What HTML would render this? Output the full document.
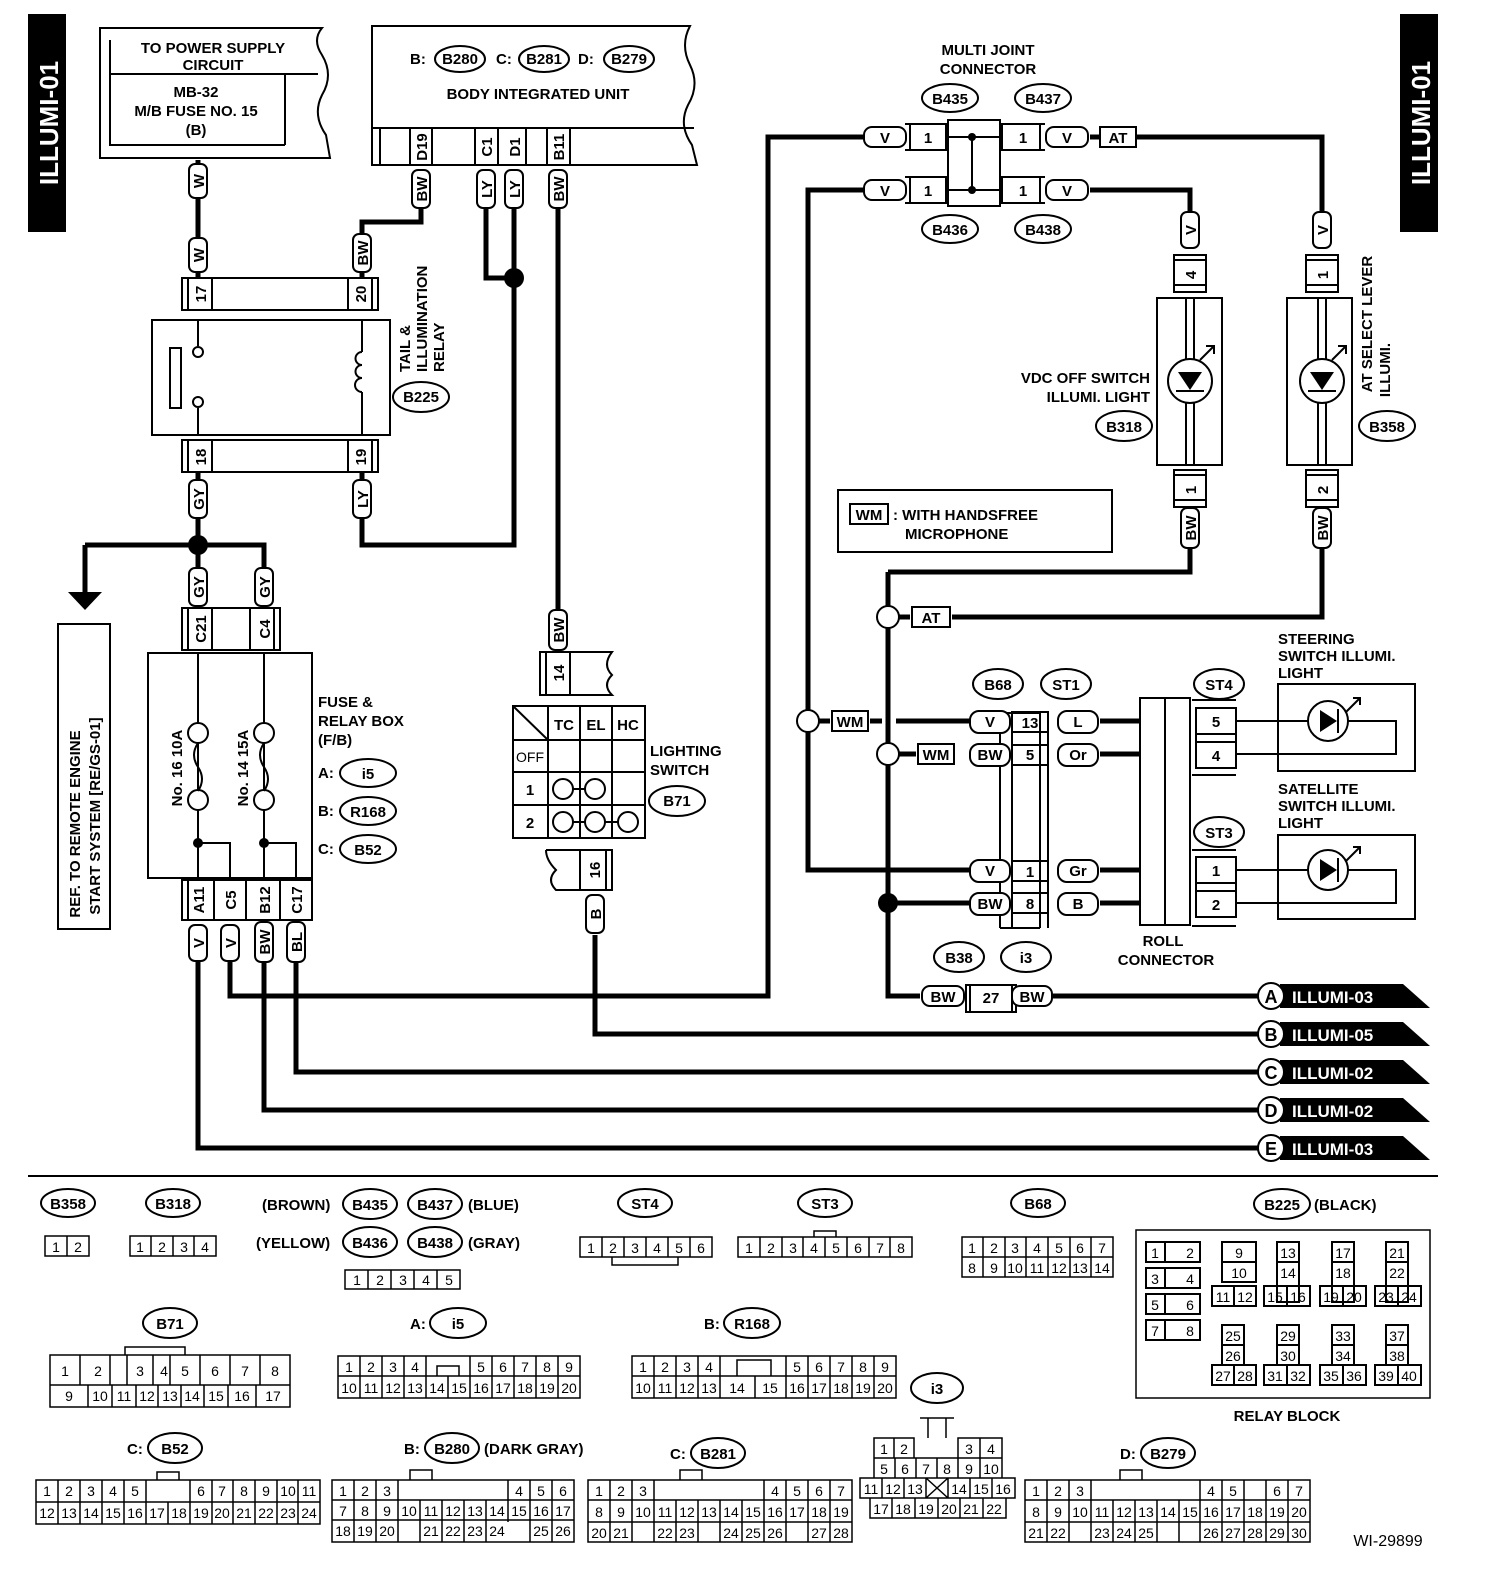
<!DOCTYPE html>
<html><head><meta charset="utf-8"><style>
html,body{margin:0;padding:0;background:#fff;overflow:hidden;width:1504px;height:1586px}
svg{display:block}
text{font-family:"Liberation Sans",sans-serif;font-weight:bold;fill:#000}
.w{fill:none;stroke:#000;stroke-width:5}
.t{fill:none;stroke:#000;stroke-width:2}
.f{fill:#fff;stroke:#000;stroke-width:2}
.s{font-size:15px}
.n{font-size:14px;font-weight:normal}
.m{text-anchor:middle}
</style></head><body>
<svg width="1504" height="1586" viewBox="0 0 1504 1586" xmlns="http://www.w3.org/2000/svg">
<rect x="28" y="14" width="38" height="218" fill="#000"/>
<text transform="translate(58,123) rotate(-90)" class="m" style="font-size:26px;fill:#fff">ILLUMI-01</text>
<rect x="1400" y="14" width="38" height="218" fill="#000"/>
<text transform="translate(1430,123) rotate(-90)" class="m" style="font-size:26px;fill:#fff">ILLUMI-01</text>

<path class="w" d="M198,160V278 M198,472V545 M85,545H264V570 M198,545V570 M85,545V595"/>
<polygon points="68,592 102,592 85,610"/>
<path class="w" d="M421,205V222H362V278 M486,205V278H514 M514,205V545H362V472 M558,205V610"/>
<circle cx="514" cy="278" r="10"/>
<circle cx="198" cy="545" r="10"/>
<path class="w" d="M198,960V1148H1260 M230,960V996H768V137H865 M264,960V1110H1260 M296,960V1072H1260 M595,935V1034H1260"/>
<path class="w" d="M865,190H808V870H970 M808,721H830 M870,721H882 M896,721H970 M888,754H916"/>
<path class="w" d="M888,572V996H920 M888,572H1190V548 M888,617H910 M952,617H1322V545 M888,903H970 M888,754H916"/>
<path class="w" d="M1030,996H1260"/>
<path class="w" d="M1090,137H1322V212 M1090,190H1190V212"/>
<path class="w" d="M1100,721H1140 M1100,754H1140 M1100,870H1140 M1100,903H1140"/>
<circle cx="808" cy="721" r="11" class="f"/>
<circle cx="888" cy="617" r="11" class="f"/>
<circle cx="888" cy="754" r="11" class="f"/>
<circle cx="888" cy="903" r="10"/>

<path class="t" d="M100,28H322 Q312,40 322,55 Q334,75 322,95 Q312,115 326,135 L330,158 H100Z"/>
<path class="t" d="M110,74H318 M285,74V145 M110,40V145H285"/>
<text x="213" y="53" class="m s">TO POWER SUPPLY</text>
<text x="213" y="70" class="m s">CIRCUIT</text>
<text x="196" y="97" class="m s">MB-32</text>
<text x="196" y="116" class="m s">M/B FUSE NO. 15</text>
<text x="196" y="135" class="m s">(B)</text>

<path class="t" d="M372,26H690 Q680,45 690,65 Q700,85 688,105 Q678,125 692,145 L697,165 H372Z"/>
<path class="t" d="M372,128H694 M380,128V165 M410,128V165 M432,128V165 M475,128V165 M498,128V165 M526,128V165 M547,128V165 M570,128V165"/>
<text x="410" y="64" class="s">B:</text><ellipse cx="460" cy="59" rx="25" ry="13" class="t"/><text x="460" y="64" class="m s">B280</text>
<text x="496" y="64" class="s">C:</text><ellipse cx="544" cy="59" rx="25" ry="13" class="t"/><text x="544" y="64" class="m s">B281</text>
<text x="578" y="64" class="s">D:</text><ellipse cx="629" cy="59" rx="25" ry="13" class="t"/><text x="629" y="64" class="m s">B279</text>
<text x="538" y="99" class="m s">BODY INTEGRATED UNIT</text>
<text transform="translate(427,147) rotate(-90)" class="m s">D19</text>
<text transform="translate(492,147) rotate(-90)" class="m s">C1</text>
<text transform="translate(520,147) rotate(-90)" class="m s">D1</text>
<text transform="translate(564,147) rotate(-90)" class="m s">B11</text>

<g>
<rect x="189" y="164" width="18" height="34" rx="6" class="f"/><text transform="translate(204,181) rotate(-90)" class="m s">W</text>
<rect x="189" y="238" width="18" height="34" rx="6" class="f"/><text transform="translate(204,255) rotate(-90)" class="m s">W</text>
<rect x="412" y="170" width="18" height="38" rx="6" class="f"/><text transform="translate(427,189) rotate(-90)" class="m s">BW</text>
<rect x="353" y="234" width="18" height="38" rx="6" class="f"/><text transform="translate(368,253) rotate(-90)" class="m s">BW</text>
<rect x="477" y="170" width="18" height="38" rx="6" class="f"/><text transform="translate(492,189) rotate(-90)" class="m s">LY</text>
<rect x="505" y="170" width="18" height="38" rx="6" class="f"/><text transform="translate(520,189) rotate(-90)" class="m s">LY</text>
<rect x="549" y="170" width="18" height="38" rx="6" class="f"/><text transform="translate(564,189) rotate(-90)" class="m s">BW</text>
<rect x="189" y="480" width="18" height="38" rx="6" class="f"/><text transform="translate(204,499) rotate(-90)" class="m s">GY</text>
<rect x="353" y="480" width="18" height="38" rx="6" class="f"/><text transform="translate(368,499) rotate(-90)" class="m s">LY</text>
<rect x="189" y="568" width="18" height="38" rx="6" class="f"/><text transform="translate(204,587) rotate(-90)" class="m s">GY</text>
<rect x="255" y="568" width="18" height="38" rx="6" class="f"/><text transform="translate(270,587) rotate(-90)" class="m s">GY</text>
<rect x="549" y="610" width="18" height="40" rx="6" class="f"/><text transform="translate(564,630) rotate(-90)" class="m s">BW</text>
<rect x="189" y="925" width="18" height="36" rx="6" class="f"/><text transform="translate(204,943) rotate(-90)" class="m s">V</text>
<rect x="221" y="925" width="18" height="36" rx="6" class="f"/><text transform="translate(236,943) rotate(-90)" class="m s">V</text>
<rect x="255" y="922" width="18" height="40" rx="6" class="f"/><text transform="translate(270,942) rotate(-90)" class="m s">BW</text>
<rect x="287" y="922" width="18" height="40" rx="6" class="f"/><text transform="translate(302,942) rotate(-90)" class="m s">BL</text>
<rect x="586" y="895" width="18" height="38" rx="6" class="f"/><text transform="translate(601,914) rotate(-90)" class="m s">B</text>
<rect x="1181" y="212" width="18" height="36" rx="6" class="f"/><text transform="translate(1196,230) rotate(-90)" class="m s">V</text>
<rect x="1313" y="212" width="18" height="36" rx="6" class="f"/><text transform="translate(1328,230) rotate(-90)" class="m s">V</text>
<rect x="1181" y="508" width="18" height="40" rx="6" class="f"/><text transform="translate(1196,528) rotate(-90)" class="m s">BW</text>
<rect x="1313" y="508" width="18" height="40" rx="6" class="f"/><text transform="translate(1328,528) rotate(-90)" class="m s">BW</text>
</g>

<path class="t" d="M182,278H378V310H182Z M188,278V310 M212,278V310 M348,278V310 M372,278V310"/>
<text transform="translate(206,294) rotate(-90)" class="m s">17</text>
<text transform="translate(366,294) rotate(-90)" class="m s">20</text>
<rect x="152" y="320" width="238" height="115" class="t"/>
<path class="t" d="M182,440H378V472H182Z M188,440V472 M212,440V472 M348,440V472 M372,440V472"/>
<text transform="translate(206,457) rotate(-90)" class="m s">18</text>
<text transform="translate(366,457) rotate(-90)" class="m s">19</text>
<rect x="170" y="348" width="11" height="60" class="t"/>
<path class="t" d="M198,320V346 M198,408V435 M362,320V352 M362,392V435"/>
<circle cx="198" cy="352" r="5" class="f"/><circle cx="198" cy="402" r="5" class="f"/>
<path class="t" d="M362,352 a6,6 0 1 0 0,13 a6,6 0 1 0 0,13 a6,6 0 1 0 0,14"/>
<text transform="translate(410,372) rotate(-90)" class="s">TAIL &amp;</text>
<text transform="translate(427,372) rotate(-90)" class="s">ILLUMINATION</text>
<text transform="translate(444,372) rotate(-90)" class="s">RELAY</text>
<ellipse cx="421" cy="397" rx="28" ry="15" class="t"/><text x="421" y="402" class="m s">B225</text>

<path class="t" d="M182,608H280V650H182Z M188,608V650 M212,608V650 M250,608V650 M274,608V650"/>
<text transform="translate(206,629) rotate(-90)" class="m s">C21</text>
<text transform="translate(270,629) rotate(-90)" class="m s">C4</text>
<rect x="148" y="653" width="164" height="225" class="t"/>
<path class="t" d="M198,653V723 M198,743V790 M198,810V880 M264,653V723 M264,743V790 M264,810V880 M198,843H230V880 M264,843H296V880"/>
<circle cx="198" cy="733" r="10" class="f"/><circle cx="198" cy="800" r="10" class="f"/>
<circle cx="264" cy="733" r="10" class="f"/><circle cx="264" cy="800" r="10" class="f"/>
<path class="t" d="M198,743 q-8,12 0,24 q8,12 0,24 M264,743 q-8,12 0,24 q8,12 0,24"/>
<circle cx="198" cy="843" r="5"/><circle cx="264" cy="843" r="5"/>
<text transform="translate(182,768) rotate(-90)" class="m s">No. 16 10A</text>
<text transform="translate(248,768) rotate(-90)" class="m s">No. 14 15A</text>
<path class="t" d="M182,880H312V920H182Z M188,880V920 M214,880V920 M246,880V920 M280,880V920"/>
<text transform="translate(204,900) rotate(-90)" class="m s">A11</text>
<text transform="translate(236,900) rotate(-90)" class="m s">C5</text>
<text transform="translate(270,900) rotate(-90)" class="m s">B12</text>
<text transform="translate(302,900) rotate(-90)" class="m s">C17</text>
<text x="318" y="707" class="s">FUSE &amp;</text>
<text x="318" y="726" class="s">RELAY BOX</text>
<text x="318" y="745" class="s">(F/B)</text>
<text x="318" y="778" class="s">A:</text><ellipse cx="368" cy="773" rx="28" ry="14" class="t"/><text x="368" y="779" class="m s">i5</text>
<text x="318" y="816" class="s">B:</text><ellipse cx="368" cy="811" rx="28" ry="14" class="t"/><text x="368" y="817" class="m s">R168</text>
<text x="318" y="854" class="s">C:</text><ellipse cx="368" cy="849" rx="28" ry="14" class="t"/><text x="368" y="855" class="m s">B52</text>

<rect x="58" y="624" width="52" height="305" class="t"/>
<text transform="translate(80,824) rotate(-90)" class="m s">REF. TO REMOTE ENGINE</text>
<text transform="translate(100,816) rotate(-90)" class="m s">START SYSTEM [RE/GS-01]</text>

<path class="t" d="M540,652H612 Q602,665 612,675 Q602,685 612,695 H540Z M546,652V695 M570,652V695"/>
<text transform="translate(564,673) rotate(-90)" class="m s">14</text>
<path class="t" d="M513,706H645V838H513Z M548,706V838 M580,706V838 M612,706V838 M513,740H645 M513,772H645 M513,805H645 M513,706L548,740"/>
<text x="564" y="730" class="m s">TC</text><text x="596" y="730" class="m s">EL</text><text x="628" y="730" class="m s">HC</text>
<text x="530" y="762" class="m n">OFF</text><text x="530" y="795" class="m s">1</text><text x="530" y="828" class="m s">2</text>
<path class="t" d="M573,789H585 M573,822H585 M605,822H618"/>
<circle cx="563" cy="789" r="10" class="t"/><circle cx="595" cy="789" r="10" class="t"/>
<circle cx="563" cy="822" r="10" class="t"/><circle cx="595" cy="822" r="10" class="t"/><circle cx="628" cy="822" r="10" class="t"/>
<path class="t" d="M546,850H612V890H556 Q546,880 556,870 Q546,860 546,850 M580,850V890 M606,850V890"/>
<text transform="translate(600,870) rotate(-90)" class="m s">16</text>
<text x="650" y="756" class="s">LIGHTING</text><text x="650" y="775" class="s">SWITCH</text>
<ellipse cx="677" cy="801" rx="28" ry="15" class="t"/><text x="677" y="806" class="m s">B71</text>

<text x="988" y="55" class="m s">MULTI JOINT</text><text x="988" y="74" class="m s">CONNECTOR</text>
<ellipse cx="950" cy="98" rx="28" ry="14" class="t"/><text x="950" y="104" class="m s">B435</text>
<ellipse cx="1043" cy="98" rx="28" ry="14" class="t"/><text x="1043" y="104" class="m s">B437</text>
<ellipse cx="950" cy="229" rx="28" ry="14" class="t"/><text x="950" y="235" class="m s">B436</text>
<ellipse cx="1043" cy="229" rx="28" ry="14" class="t"/><text x="1043" y="235" class="m s">B438</text>
<rect x="948" y="120" width="52" height="86" class="t"/>
<path class="t" d="M948,137H1000 M948,190H1000 M972,137V190"/>
<circle cx="972" cy="137" r="4"/><circle cx="972" cy="190" r="4"/>
<path class="t" d="M905,124H946V150H905 M910,124V150 M905,177H946V203H905 M910,177V203 M1045,124H1002V150H1045 M1040,124V150 M1045,177H1002V203H1045 M1040,177V203"/>
<text x="928" y="143" class="m s">1</text><text x="928" y="196" class="m s">1</text>
<text x="1023" y="143" class="m s">1</text><text x="1023" y="196" class="m s">1</text>
<rect x="864" y="127" width="42" height="20" rx="8" class="f"/><text x="885" y="143" class="m s">V</text>
<rect x="864" y="180" width="42" height="20" rx="8" class="f"/><text x="885" y="196" class="m s">V</text>
<rect x="1046" y="127" width="42" height="20" rx="8" class="f"/><text x="1067" y="143" class="m s">V</text>
<rect x="1046" y="180" width="42" height="20" rx="8" class="f"/><text x="1067" y="196" class="m s">V</text>
<rect x="1100" y="127" width="36" height="20" class="f"/><text x="1118" y="143" class="m s">AT</text>

<path class="t" d="M1174,255H1206V292H1174Z M1174,260H1206 M1174,285H1206"/>
<text transform="translate(1196,275) rotate(-90)" class="m s">4</text>
<rect x="1157" y="298" width="65" height="167" class="t"/>
<path class="t" d="M1186,298V465 M1194,298V465"/>
<circle cx="1190" cy="381" r="22" class="f"/>
<polygon points="1178,372 1202,372 1190,390"/><path class="t" d="M1176,391H1204"/>
<path class="t" d="M1200,360l14,-14 m-8,0l8,0l0,8"/>
<path class="t" d="M1174,470H1206V507H1174Z M1174,475H1206 M1174,500H1206"/>
<text transform="translate(1196,490) rotate(-90)" class="m s">1</text>
<text x="1150" y="383" class="s" text-anchor="end">VDC OFF SWITCH</text>
<text x="1150" y="402" class="s" text-anchor="end">ILLUMI. LIGHT</text>
<ellipse cx="1124" cy="426" rx="28" ry="15" class="t"/><text x="1124" y="432" class="m s">B318</text>

<path class="t" d="M1306,255H1338V292H1306Z M1306,260H1338 M1306,285H1338"/>
<text transform="translate(1328,275) rotate(-90)" class="m s">1</text>
<rect x="1287" y="298" width="65" height="167" class="t"/>
<path class="t" d="M1318,298V465 M1326,298V465"/>
<circle cx="1322" cy="381" r="22" class="f"/>
<polygon points="1310,372 1334,372 1322,390"/><path class="t" d="M1308,391H1336"/>
<path class="t" d="M1332,360l14,-14 m-8,0l8,0l0,8"/>
<path class="t" d="M1306,470H1338V507H1306Z M1306,475H1338 M1306,500H1338"/>
<text transform="translate(1328,490) rotate(-90)" class="m s">2</text>
<text transform="translate(1372,324) rotate(-90)" class="m s">AT SELECT LEVER</text>
<text transform="translate(1390,370) rotate(-90)" class="m s">ILLUMI.</text>
<ellipse cx="1387" cy="426" rx="28" ry="15" class="t"/><text x="1387" y="432" class="m s">B358</text>

<rect x="838" y="490" width="274" height="62" class="t"/>
<rect x="850" y="504" width="38" height="20" class="t"/><text x="869" y="520" class="m s">WM</text>
<text x="893" y="520" class="s">: WITH HANDSFREE</text><text x="905" y="539" class="s">MICROPHONE</text>

<rect x="912" y="607" width="38" height="20" class="f"/><text x="931" y="623" class="m s">AT</text>
<rect x="832" y="711" width="36" height="20" class="f"/><text x="850" y="727" class="m s">WM</text>
<rect x="918" y="744" width="36" height="20" class="f"/><text x="936" y="760" class="m s">WM</text>

<ellipse cx="998" cy="684" rx="25" ry="15" class="t"/><text x="998" y="690" class="m s">B68</text>
<ellipse cx="1066" cy="684" rx="25" ry="15" class="t"/><text x="1066" y="690" class="m s">ST1</text>
<path class="t" d="M1000,713V928 M1040,713V928 M1000,713H1040 M1000,928H1040 M1012,713V928 M1048,713V928"/>
<path class="t" d="M1012,712H1048V732H1012Z M1012,745H1048V765H1012Z M1012,861H1048V881H1012Z M1012,893H1048V913H1012Z"/>
<text x="1030" y="728" class="m s">13</text><text x="1030" y="760" class="m s">5</text><text x="1030" y="877" class="m s">1</text><text x="1030" y="909" class="m s">8</text>
<g>
<rect x="970" y="711" width="40" height="22" rx="9" class="f"/><text x="990" y="727" class="m s">V</text>
<rect x="970" y="744" width="40" height="22" rx="9" class="f"/><text x="990" y="760" class="m s">BW</text>
<rect x="970" y="860" width="40" height="22" rx="9" class="f"/><text x="990" y="876" class="m s">V</text>
<rect x="970" y="893" width="40" height="22" rx="9" class="f"/><text x="990" y="909" class="m s">BW</text>
<rect x="1058" y="711" width="40" height="22" rx="9" class="f"/><text x="1078" y="727" class="m s">L</text>
<rect x="1058" y="744" width="40" height="22" rx="9" class="f"/><text x="1078" y="760" class="m s">Or</text>
<rect x="1058" y="860" width="40" height="22" rx="9" class="f"/><text x="1078" y="876" class="m s">Gr</text>
<rect x="1058" y="893" width="40" height="22" rx="9" class="f"/><text x="1078" y="909" class="m s">B</text>
</g>
<path class="t" d="M1140,698H1190V925H1140Z M1165,698V925"/>
<text x="1163" y="946" class="m s">ROLL</text><text x="1166" y="965" class="m s">CONNECTOR</text>
<ellipse cx="1219" cy="684" rx="25" ry="15" class="t"/><text x="1219" y="690" class="m s">ST4</text>
<path class="t" d="M1192,700H1236 M1192,775H1236 M1196,708H1236V768H1196Z M1196,734H1236 M1196,742H1236"/>
<text x="1216" y="727" class="m s">5</text><text x="1216" y="761" class="m s">4</text>
<ellipse cx="1219" cy="832" rx="25" ry="15" class="t"/><text x="1219" y="838" class="m s">ST3</text>
<path class="t" d="M1192,850H1236 M1192,926H1236 M1196,857H1236V917H1196Z M1196,883H1236 M1196,891H1236"/>
<text x="1216" y="876" class="m s">1</text><text x="1216" y="910" class="m s">2</text>
<rect x="1278" y="684" width="137" height="87" class="t"/>
<rect x="1278" y="835" width="137" height="84" class="t"/>
<path class="t" d="M1236,721H1396V754H1236 M1236,870H1396V903H1236"/>
<circle cx="1328" cy="721" r="20" class="f"/><polygon points="1320,710 1320,732 1337,721"/><path class="t" d="M1338,709V733 M1346,712l14,-14 m-7,0l7,0l0,7"/>
<circle cx="1328" cy="870" r="20" class="f"/><polygon points="1320,859 1320,881 1337,870"/><path class="t" d="M1338,858V882 M1346,861l14,-14 m-7,0l7,0l0,7"/>
<text x="1278" y="644" class="s">STEERING</text><text x="1278" y="661" class="s">SWITCH ILLUMI.</text><text x="1278" y="678" class="s">LIGHT</text>
<text x="1278" y="794" class="s">SATELLITE</text><text x="1278" y="811" class="s">SWITCH ILLUMI.</text><text x="1278" y="828" class="s">LIGHT</text>

<ellipse cx="959" cy="957" rx="25" ry="15" class="t"/><text x="959" y="963" class="m s">B38</text>
<ellipse cx="1026" cy="957" rx="25" ry="15" class="t"/><text x="1026" y="963" class="m s">i3</text>
<path class="t" d="M966,985H1016V1012H966Z M970,985V1012 M1012,985V1012"/>
<text x="991" y="1003" class="m s">27</text>
<rect x="922" y="986" width="42" height="20" rx="8" class="f"/><text x="943" y="1002" class="m s">BW</text>
<rect x="1012" y="986" width="40" height="20" rx="8" class="f"/><text x="1032" y="1002" class="m s">BW</text>

<g>
<polygon points="1280,984 1403,984 1430,1008 1280,1008"/><circle cx="1271" cy="996" r="13" class="f"/><text x="1271" y="1003" class="m" style="font-size:18px">A</text><text x="1292" y="1003" style="font-size:17px;fill:#fff">ILLUMI-03</text>
<polygon points="1280,1022 1403,1022 1430,1046 1280,1046"/><circle cx="1271" cy="1034" r="13" class="f"/><text x="1271" y="1041" class="m" style="font-size:18px">B</text><text x="1292" y="1041" style="font-size:17px;fill:#fff">ILLUMI-05</text>
<polygon points="1280,1060 1403,1060 1430,1084 1280,1084"/><circle cx="1271" cy="1072" r="13" class="f"/><text x="1271" y="1079" class="m" style="font-size:18px">C</text><text x="1292" y="1079" style="font-size:17px;fill:#fff">ILLUMI-02</text>
<polygon points="1280,1098 1403,1098 1430,1122 1280,1122"/><circle cx="1271" cy="1110" r="13" class="f"/><text x="1271" y="1117" class="m" style="font-size:18px">D</text><text x="1292" y="1117" style="font-size:17px;fill:#fff">ILLUMI-02</text>
<polygon points="1280,1136 1403,1136 1430,1160 1280,1160"/><circle cx="1271" cy="1148" r="13" class="f"/><text x="1271" y="1155" class="m" style="font-size:18px">E</text><text x="1292" y="1155" style="font-size:17px;fill:#fff">ILLUMI-03</text>
</g>

<path d="M28,1176H1438" stroke="#000" stroke-width="2"/>

<g>
<ellipse cx="68" cy="1203" rx="27" ry="14" class="t"/><text x="68" y="1209" class="m s">B358</text>
<ellipse cx="173" cy="1203" rx="27" ry="14" class="t"/><text x="173" y="1209" class="m s">B318</text>
<text x="262" y="1210" class="s">(BROWN)</text><ellipse cx="370" cy="1204" rx="27" ry="15" class="t"/><text x="370" y="1210" class="m s">B435</text>
<ellipse cx="435" cy="1204" rx="27" ry="15" class="t"/><text x="435" y="1210" class="m s">B437</text><text x="468" y="1210" class="s">(BLUE)</text>
<text x="256" y="1248" class="s">(YELLOW)</text><ellipse cx="370" cy="1242" rx="27" ry="15" class="t"/><text x="370" y="1248" class="m s">B436</text>
<ellipse cx="435" cy="1242" rx="27" ry="15" class="t"/><text x="435" y="1248" class="m s">B438</text><text x="468" y="1248" class="s">(GRAY)</text>
<ellipse cx="645" cy="1203" rx="27" ry="14" class="t"/><text x="645" y="1209" class="m s">ST4</text>
<ellipse cx="825" cy="1203" rx="27" ry="14" class="t"/><text x="825" y="1209" class="m s">ST3</text>
<ellipse cx="1038" cy="1203" rx="27" ry="14" class="t"/><text x="1038" y="1209" class="m s">B68</text>
<ellipse cx="1282" cy="1204" rx="28" ry="15" class="t"/><text x="1282" y="1210" class="m s">B225</text><text x="1314" y="1210" class="s">(BLACK)</text>
<ellipse cx="170" cy="1323" rx="27" ry="15" class="t"/><text x="170" y="1329" class="m s">B71</text>
<text x="410" y="1329" class="s">A:</text><ellipse cx="458" cy="1323" rx="28" ry="15" class="t"/><text x="458" y="1329" class="m s">i5</text>
<text x="704" y="1329" class="s">B:</text><ellipse cx="752" cy="1323" rx="28" ry="15" class="t"/><text x="752" y="1329" class="m s">R168</text>
<ellipse cx="937" cy="1388" rx="26" ry="15" class="t"/><text x="937" y="1394" class="m s">i3</text>
<text x="127" y="1454" class="s">C:</text><ellipse cx="175" cy="1448" rx="27" ry="15" class="t"/><text x="175" y="1454" class="m s">B52</text>
<text x="404" y="1454" class="s">B:</text><ellipse cx="452" cy="1448" rx="27" ry="15" class="t"/><text x="452" y="1454" class="m s">B280</text><text x="484" y="1454" class="s">(DARK GRAY)</text>
<text x="670" y="1459" class="s">C:</text><ellipse cx="718" cy="1453" rx="27" ry="15" class="t"/><text x="718" y="1459" class="m s">B281</text>
<text x="1120" y="1459" class="s">D:</text><ellipse cx="1168" cy="1453" rx="27" ry="15" class="t"/><text x="1168" y="1459" class="m s">B279</text>
</g>

<g stroke="#000" stroke-width="1.5" fill="none">
<path d="M45,1236h44v20h-44z M67,1236v20"/>
<path d="M130,1236h86v20h-86z M151,1236v20 M173,1236v20 M194,1236v20"/>
<path d="M345,1270h115v19h-115z M368,1270v19 M391,1270v19 M414,1270v19 M437,1270v19"/>
<path d="M580,1237h132v20h-132z M602,1237v20 M624,1237v20 M646,1237v20 M668,1237v20 M690,1237v20 M612,1257v8h66v-8"/>
<path d="M738,1237h174v20h-174z M760,1237v20 M782,1237v20 M803,1237v20 M825,1237v20 M847,1237v20 M869,1237v20 M890,1237v20 M814,1237v-6h22v6"/>
<path d="M962,1237h151v40h-151z M962,1257h151 M983,1237v40 M1005,1237v40 M1026,1237v40 M1048,1237v40 M1070,1237v40 M1091,1237v40"/>
<path d="M1136,1230h294v168h-294z"/>
<path d="M50,1355h240v52h-240z M50,1385h240 M80,1355v30 M110,1355v30 M170,1355v30 M200,1355v30 M230,1355v30 M260,1355v30 M127,1355v30 M153,1355v30 M88,1385v22 M112,1385v22 M136,1385v22 M158,1385v22 M181,1385v22 M204,1385v22 M228,1385v22 M256,1385v22 M125,1355v-8h60v8"/>
<path d="M338,1356h242v42h-242z M338,1376h242 M360,1356v42 M382,1356v42 M404,1356v42 M426,1356v42 M448,1376v22 M470,1356v42 M492,1356v42 M514,1356v42 M536,1356v42 M558,1356v42 M437,1376v-10h22v10"/>
<path d="M632,1356h264v42h-264z M632,1376h264 M654,1356v42 M676,1356v42 M698,1356v42 M720,1356v42 M755,1376v22 M786,1356v42 M808,1356v42 M830,1356v42 M852,1356v42 M874,1356v42 M737,1376v-16h34v16"/>
<path d="M874,1438h40v20h-40z M894,1438v20 M958,1438h44v20h-44z M980,1438v20 M874,1458h128v20h-128z M895,1458v20 M916,1458v20 M937,1458v20 M958,1458v20 M980,1458v20 M860,1478h155v20h-155z M882,1478v20 M904,1478v20 M926,1478v20 M948,1478v20 M970,1478v20 M992,1478v20 M926,1478l22,20 M948,1478l-22,20 M870,1498h136v20h-136z M892,1498v20 M915,1498v20 M938,1498v20 M960,1498v20 M983,1498v20 M928,1438v-20h18v20 M920,1418h34"/>
<path d="M36,1480h284v44h-284z M36,1502h284 M58,1480v44 M80,1480v44 M102,1480v44 M124,1480v44 M146,1480v44 M168,1502v22 M190,1480v44 M212,1480v44 M233,1480v44 M255,1480v44 M277,1480v44 M298,1480v44 M157,1480v-8h22v8"/>
<path d="M332,1480h242v62h-242z M332,1500h242 M332,1520h242 M354,1480v62 M376,1480v62 M398,1480v62 M420,1500v42 M442,1500v42 M464,1500v42 M486,1500v42 M508,1480v42 M530,1480v62 M552,1480v62 M410,1480v-10h22v10"/>
<path d="M588,1480h264v62h-264z M588,1500h264 M588,1522h264 M610,1480v62 M632,1480v62 M654,1480v62 M676,1500v42 M698,1500v42 M720,1500v42 M742,1500v42 M764,1480v62 M786,1480v62 M808,1480v62 M830,1480v62 M680,1480v-10h22v10"/>
<path d="M1025,1480h285v62h-285z M1025,1500h285 M1025,1522h285 M1047,1480v62 M1069,1480v62 M1091,1480v62 M1113,1500v42 M1135,1500v42 M1157,1500v42 M1179,1500v42 M1200,1480v62 M1222,1480v62 M1244,1480v62 M1266,1480v62 M1288,1480v62 M1120,1480v-10h22v10"/>
</g>
<g stroke="#000" stroke-width="2" fill="none">
<path d="M1146,1242h54v20h-54z M1165,1242v20 M1146,1268h54v20h-54z M1165,1268v20 M1146,1294h54v20h-54z M1165,1294v20 M1146,1320h54v20h-54z M1165,1320v20"/>
<path d="M1222,1242h34v40h-34z M1212,1286h44v20h-44z M1234,1286v20 M1222,1262h34"/>
<path d="M1277,1242h22v60h-22z M1277,1262h22 M1264,1286h46v20h-46z M1287,1286v20"/>
<path d="M1332,1242h22v60h-22z M1332,1262h22 M1320,1286h46v20h-46z M1343,1286v20"/>
<path d="M1386,1242h22v60h-22z M1386,1262h22 M1375,1286h46v20h-46z M1398,1286v20"/>
<path d="M1222,1325h22v40h-22z M1222,1345h22 M1212,1365h44v20h-44z M1234,1365v20"/>
<path d="M1277,1325h22v40h-22z M1277,1345h22 M1264,1365h46v20h-46z M1287,1365v20"/>
<path d="M1332,1325h22v40h-22z M1332,1345h22 M1320,1365h46v20h-46z M1343,1365v20"/>
<path d="M1386,1325h22v40h-22z M1386,1345h22 M1375,1365h46v20h-46z M1398,1365v20"/>
</g>
<g>
<text class="n m" y="1252"><tspan x="56">1</tspan><tspan x="78">2</tspan></text>
<text class="n m" y="1252"><tspan x="140">1</tspan><tspan x="162">2</tspan><tspan x="184">3</tspan><tspan x="205">4</tspan></text>
<text class="n m" y="1285"><tspan x="357">1</tspan><tspan x="380">2</tspan><tspan x="403">3</tspan><tspan x="426">4</tspan><tspan x="449">5</tspan></text>
<text class="n m" y="1253"><tspan x="591">1</tspan><tspan x="613">2</tspan><tspan x="635">3</tspan><tspan x="657">4</tspan><tspan x="679">5</tspan><tspan x="701">6</tspan></text>
<text class="n m" y="1253"><tspan x="749">1</tspan><tspan x="771">2</tspan><tspan x="793">3</tspan><tspan x="814">4</tspan><tspan x="836">5</tspan><tspan x="858">6</tspan><tspan x="880">7</tspan><tspan x="901">8</tspan></text>
<text class="n m" y="1253"><tspan x="972">1</tspan><tspan x="994">2</tspan><tspan x="1015">3</tspan><tspan x="1037">4</tspan><tspan x="1059">5</tspan><tspan x="1080">6</tspan><tspan x="1102">7</tspan></text>
<text class="n m" y="1273"><tspan x="972">8</tspan><tspan x="994">9</tspan><tspan x="1015">10</tspan><tspan x="1037">11</tspan><tspan x="1059">12</tspan><tspan x="1080">13</tspan><tspan x="1102">14</tspan></text>
<text class="n m" y="1258"><tspan x="1155">1</tspan><tspan x="1190">2</tspan><tspan x="1239">9</tspan><tspan x="1288">13</tspan><tspan x="1343">17</tspan><tspan x="1397">21</tspan></text>
<text class="n m" y="1278"><tspan x="1239">10</tspan><tspan x="1288">14</tspan><tspan x="1343">18</tspan><tspan x="1397">22</tspan></text>
<text class="n m" y="1284"><tspan x="1155">3</tspan><tspan x="1190">4</tspan></text>
<text class="n m" y="1302"><tspan x="1223">11</tspan><tspan x="1245">12</tspan><tspan x="1275">15</tspan><tspan x="1298">16</tspan><tspan x="1331">19</tspan><tspan x="1354">20</tspan><tspan x="1386">23</tspan><tspan x="1409">24</tspan></text>
<text class="n m" y="1310"><tspan x="1155">5</tspan><tspan x="1190">6</tspan></text>
<text class="n m" y="1336"><tspan x="1155">7</tspan><tspan x="1190">8</tspan></text>
<text class="n m" y="1341"><tspan x="1233">25</tspan><tspan x="1288">29</tspan><tspan x="1343">33</tspan><tspan x="1397">37</tspan></text>
<text class="n m" y="1361"><tspan x="1233">26</tspan><tspan x="1288">30</tspan><tspan x="1343">34</tspan><tspan x="1397">38</tspan></text>
<text class="n m" y="1381"><tspan x="1223">27</tspan><tspan x="1245">28</tspan><tspan x="1275">31</tspan><tspan x="1298">32</tspan><tspan x="1331">35</tspan><tspan x="1354">36</tspan><tspan x="1386">39</tspan><tspan x="1409">40</tspan></text>
<text class="n m" y="1376"><tspan x="65">1</tspan><tspan x="98">2</tspan><tspan x="140">3</tspan><tspan x="164">4</tspan><tspan x="185">5</tspan><tspan x="215">6</tspan><tspan x="245">7</tspan><tspan x="275">8</tspan></text>
<text class="n m" y="1401"><tspan x="69">9</tspan><tspan x="100">10</tspan><tspan x="124">11</tspan><tspan x="147">12</tspan><tspan x="170">13</tspan><tspan x="192">14</tspan><tspan x="216">15</tspan><tspan x="242">16</tspan><tspan x="273">17</tspan></text>
<text class="n m" y="1372"><tspan x="349">1</tspan><tspan x="371">2</tspan><tspan x="393">3</tspan><tspan x="415">4</tspan><tspan x="481">5</tspan><tspan x="503">6</tspan><tspan x="525">7</tspan><tspan x="547">8</tspan><tspan x="569">9</tspan></text>
<text class="n m" y="1393"><tspan x="349">10</tspan><tspan x="371">11</tspan><tspan x="393">12</tspan><tspan x="415">13</tspan><tspan x="437">14</tspan><tspan x="459">15</tspan><tspan x="481">16</tspan><tspan x="503">17</tspan><tspan x="525">18</tspan><tspan x="547">19</tspan><tspan x="569">20</tspan></text>
<text class="n m" y="1372"><tspan x="643">1</tspan><tspan x="665">2</tspan><tspan x="687">3</tspan><tspan x="709">4</tspan><tspan x="797">5</tspan><tspan x="819">6</tspan><tspan x="841">7</tspan><tspan x="863">8</tspan><tspan x="885">9</tspan></text>
<text class="n m" y="1393"><tspan x="643">10</tspan><tspan x="665">11</tspan><tspan x="687">12</tspan><tspan x="709">13</tspan><tspan x="737">14</tspan><tspan x="770">15</tspan><tspan x="797">16</tspan><tspan x="819">17</tspan><tspan x="841">18</tspan><tspan x="863">19</tspan><tspan x="885">20</tspan></text>
<text class="n m" y="1454"><tspan x="884">1</tspan><tspan x="904">2</tspan><tspan x="969">3</tspan><tspan x="991">4</tspan></text>
<text class="n m" y="1474"><tspan x="884">5</tspan><tspan x="905">6</tspan><tspan x="926">7</tspan><tspan x="947">8</tspan><tspan x="969">9</tspan><tspan x="991">10</tspan></text>
<text class="n m" y="1494"><tspan x="871">11</tspan><tspan x="893">12</tspan><tspan x="915">13</tspan><tspan x="959">14</tspan><tspan x="981">15</tspan><tspan x="1003">16</tspan></text>
<text class="n m" y="1514"><tspan x="881">17</tspan><tspan x="903">18</tspan><tspan x="926">19</tspan><tspan x="949">20</tspan><tspan x="971">21</tspan><tspan x="994">22</tspan></text>
<text class="n m" y="1496"><tspan x="47">1</tspan><tspan x="69">2</tspan><tspan x="91">3</tspan><tspan x="113">4</tspan><tspan x="135">5</tspan><tspan x="201">6</tspan><tspan x="222">7</tspan><tspan x="244">8</tspan><tspan x="266">9</tspan><tspan x="288">10</tspan><tspan x="309">11</tspan></text>
<text class="n m" y="1518"><tspan x="47">12</tspan><tspan x="69">13</tspan><tspan x="91">14</tspan><tspan x="113">15</tspan><tspan x="135">16</tspan><tspan x="157">17</tspan><tspan x="179">18</tspan><tspan x="201">19</tspan><tspan x="222">20</tspan><tspan x="244">21</tspan><tspan x="266">22</tspan><tspan x="288">23</tspan><tspan x="309">24</tspan></text>
<text class="n m" y="1496"><tspan x="343">1</tspan><tspan x="365">2</tspan><tspan x="387">3</tspan><tspan x="519">4</tspan><tspan x="541">5</tspan><tspan x="563">6</tspan></text>
<text class="n m" y="1516"><tspan x="343">7</tspan><tspan x="365">8</tspan><tspan x="387">9</tspan><tspan x="409">10</tspan><tspan x="431">11</tspan><tspan x="453">12</tspan><tspan x="475">13</tspan><tspan x="497">14</tspan><tspan x="519">15</tspan><tspan x="541">16</tspan><tspan x="563">17</tspan></text>
<text class="n m" y="1536"><tspan x="343">18</tspan><tspan x="365">19</tspan><tspan x="387">20</tspan><tspan x="431">21</tspan><tspan x="453">22</tspan><tspan x="475">23</tspan><tspan x="497">24</tspan><tspan x="541">25</tspan><tspan x="563">26</tspan></text>
<text class="n m" y="1496"><tspan x="599">1</tspan><tspan x="621">2</tspan><tspan x="643">3</tspan><tspan x="775">4</tspan><tspan x="797">5</tspan><tspan x="819">6</tspan><tspan x="841">7</tspan></text>
<text class="n m" y="1517"><tspan x="599">8</tspan><tspan x="621">9</tspan><tspan x="643">10</tspan><tspan x="665">11</tspan><tspan x="687">12</tspan><tspan x="709">13</tspan><tspan x="731">14</tspan><tspan x="753">15</tspan><tspan x="775">16</tspan><tspan x="797">17</tspan><tspan x="819">18</tspan><tspan x="841">19</tspan></text>
<text class="n m" y="1538"><tspan x="599">20</tspan><tspan x="621">21</tspan><tspan x="665">22</tspan><tspan x="687">23</tspan><tspan x="731">24</tspan><tspan x="753">25</tspan><tspan x="775">26</tspan><tspan x="819">27</tspan><tspan x="841">28</tspan></text>
<text class="n m" y="1496"><tspan x="1036">1</tspan><tspan x="1058">2</tspan><tspan x="1080">3</tspan><tspan x="1211">4</tspan><tspan x="1233">5</tspan><tspan x="1277">6</tspan><tspan x="1299">7</tspan></text>
<text class="n m" y="1517"><tspan x="1036">8</tspan><tspan x="1058">9</tspan><tspan x="1080">10</tspan><tspan x="1102">11</tspan><tspan x="1124">12</tspan><tspan x="1146">13</tspan><tspan x="1168">14</tspan><tspan x="1190">15</tspan><tspan x="1211">16</tspan><tspan x="1233">17</tspan><tspan x="1255">18</tspan><tspan x="1277">19</tspan><tspan x="1299">20</tspan></text>
<text class="n m" y="1538"><tspan x="1036">21</tspan><tspan x="1058">22</tspan><tspan x="1102">23</tspan><tspan x="1124">24</tspan><tspan x="1146">25</tspan><tspan x="1211">26</tspan><tspan x="1233">27</tspan><tspan x="1255">28</tspan><tspan x="1277">29</tspan><tspan x="1299">30</tspan></text>
</g>
<text x="1287" y="1421" class="m s">RELAY BLOCK</text>
<text x="1388" y="1546" class="m" style="font-size:16px;font-weight:normal">WI-29899</text>
</svg>
</body></html>
